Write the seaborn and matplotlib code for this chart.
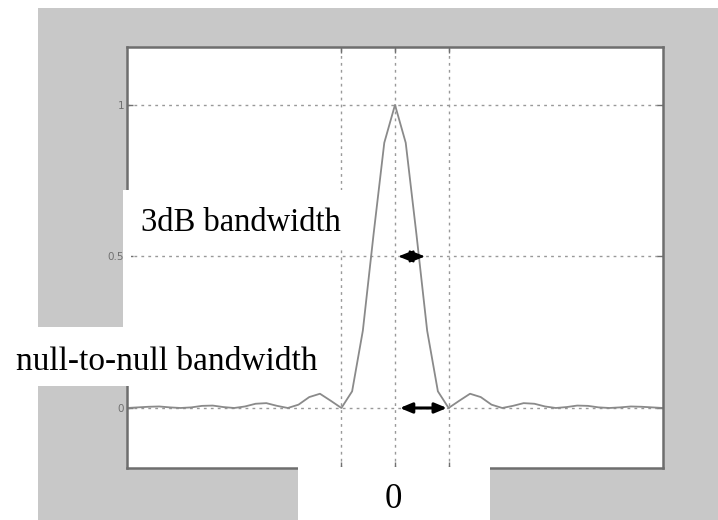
import matplotlib
matplotlib.use("Agg")
import matplotlib.pyplot as plt
from matplotlib.patches import Rectangle
import seaborn as sns
import pandas as pd

# ---- data (normalised frequency vs. normalised power) ----
freq = [-5.0, -4.8, -4.6, -4.4, -4.2, -4.0, -3.8, -3.6, -3.4, -3.2, -3.0,
        -2.8, -2.6, -2.4, -2.2, -2.0, -1.8, -1.6, -1.4, -1.2, -1.0,
        -0.8, -0.6, -0.4, -0.2, 0.0, 0.2, 0.4, 0.6, 0.8, 1.0,
        1.2, 1.4, 1.6, 1.8, 2.0, 2.2, 2.4, 2.6, 2.8, 3.0,
        3.2, 3.4, 3.6, 3.8, 4.0, 4.2, 4.4, 4.6, 4.8, 5.0]
power = [0.0, 0.002, 0.004, 0.005, 0.002, 0.0, 0.002, 0.007, 0.008, 0.003, 0.0,
         0.005, 0.014, 0.016, 0.007, 0.0, 0.011, 0.036, 0.047, 0.024, 0.0,
         0.055, 0.255, 0.573, 0.875, 1.0, 0.875, 0.573, 0.255, 0.055, 0.0,
         0.024, 0.047, 0.036, 0.011, 0.0, 0.007, 0.016, 0.014, 0.005, 0.0,
         0.003, 0.008, 0.007, 0.002, 0.0, 0.002, 0.005, 0.004, 0.002, 0.0]
x_grid = [-1, 0, 1]
y_ticks = [0, 0.5, 1]
y_labels = ["0", "0.5", "1"]
label_3db = "3dB bandwidth"
label_null = "null-to-null bandwidth"
center_label = "0"
half_power_level = 0.5
arrow_3db = (0.06, 0.56)
arrow_null = (0.09, 0.97)

df = pd.DataFrame({"freq": freq, "power": power})

sns.set_style("white")
plt.rcParams["font.family"] = ["DejaVu Sans"]

W, H = 718, 520
fig = plt.figure(figsize=(W / 100, H / 100), dpi=100, facecolor="white")


def fx(px):
    return px / W


def fy(py):
    return 1 - py / H


def frect(x0, y0, x1, y1, color, z):
    r = Rectangle((fx(x0), fy(y1)), fx(x1) - fx(x0), fy(y0) - fy(y1),
                  transform=fig.transFigure, facecolor=color, edgecolor="none",
                  zorder=z)
    fig.add_artist(r)


# grey figure panel
frect(38, 8, 720, 522, "#c8c8c8", -5)

ax = fig.add_axes([fx(127), fy(468), fx(663) - fx(127), fy(47) - fy(468)])
ax.set_facecolor("white")

sns.lineplot(data=df, x="freq", y="power", ax=ax, color="#8a8a8a",
             linewidth=1.3, sort=False, estimator=None)

ax.set_xlim(-5.0, 5.0)
ax.set_ylim(-0.198, 1.191)
ax.set_xticks(x_grid)
ax.set_xticklabels([])
ax.set_yticks(y_ticks)
ax.set_yticklabels(y_labels, fontsize=7.5, color="#707070")
ax.set_xlabel("")
ax.set_ylabel("")
ax.grid(True, color="#999999", linestyle=(0, (2, 3)), linewidth=1.0)
ax.tick_params(direction="in", length=4, color="#707070", width=1,
               top=True, bottom=True, left=True, right=True, pad=2)
for s in ax.spines.values():
    s.set_color("#6e6e6e")
    s.set_linewidth(1.8)
    s.set_visible(True)

# double-headed arrows
ax.annotate("", xy=(arrow_3db[1], half_power_level), xytext=(arrow_3db[0], half_power_level),
            arrowprops=dict(arrowstyle="<|-|>,head_length=0.9,head_width=0.36",
                            color="black", lw=1.5, shrinkA=0, shrinkB=0,
                            mutation_scale=10),
            zorder=6)
ax.annotate("", xy=(arrow_null[1], 0), xytext=(arrow_null[0], 0),
            arrowprops=dict(arrowstyle="<|-|>,head_length=0.72,head_width=0.3",
                            color="black", lw=2.2, shrinkA=0, shrinkB=0,
                            mutation_scale=10),
            zorder=6)

# white label patches
frect(124, 190, 351, 250, "white", 5)
frect(123, 190, 131, 386, "white", 5)
frect(0, 327, 330, 386, "white", 5)
frect(298, 467, 490, 522, "white", 5)

serif = ["Liberation Serif", "DejaVu Serif"]
fig.text(fx(141), fy(231), label_3db, fontsize=23.5, family=serif,
         ha="left", va="baseline", color="black", zorder=10)
fig.text(fx(16), fy(370), label_null, fontsize=24, family=serif,
         ha="left", va="baseline", color="black", zorder=10)
fig.text(fx(393), fy(508), center_label, fontsize=25, family=serif,
         ha="center", va="baseline", color="black", zorder=10)

fig.savefig("out.png", dpi=100, facecolor="white")
